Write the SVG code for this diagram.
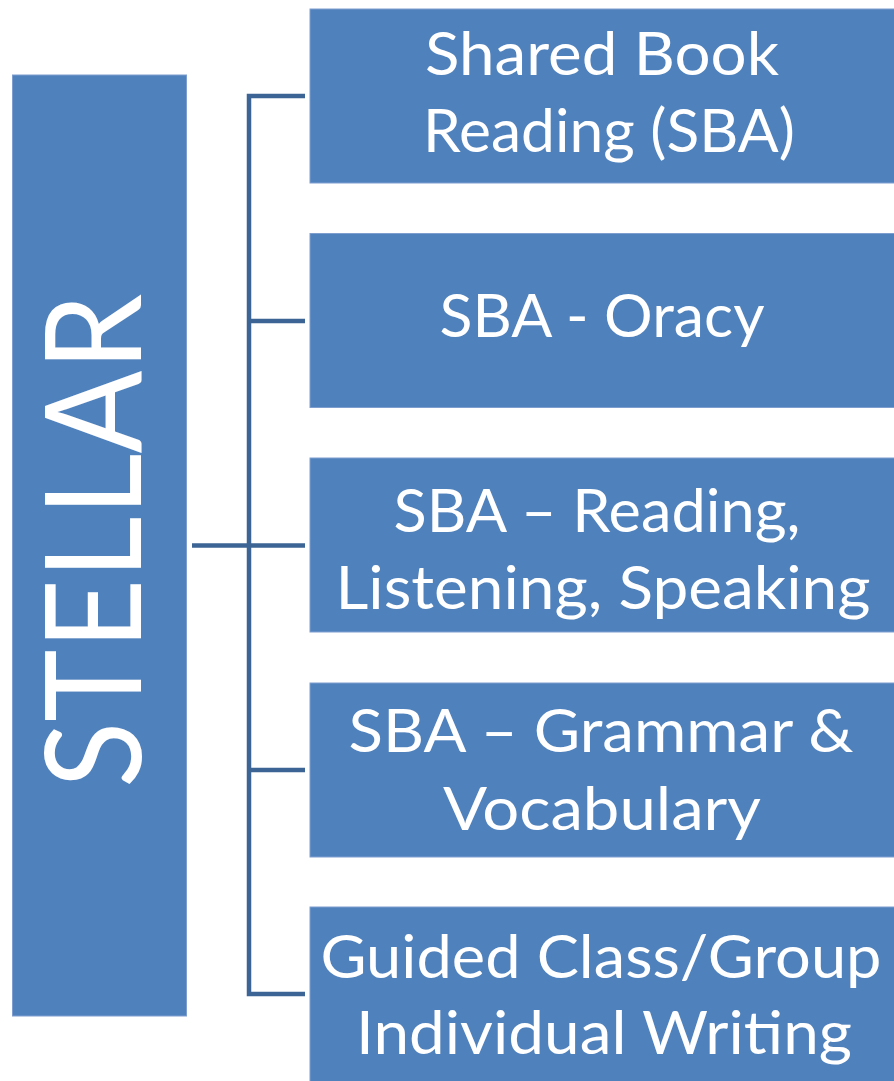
<svg xmlns="http://www.w3.org/2000/svg" width="894" height="1081" viewBox="0 0 894 1081">
<style>
.box{fill:#4F81BD;stroke:#7E9ED0;stroke-width:1}
.t{font-family:Lato,"Open Sans","Liberation Sans",sans-serif;fill:#FFFFFF;font-size:60px;text-anchor:middle}
.big{font-family:Lato,"Open Sans","Liberation Sans",sans-serif;fill:#FFFFFF;font-size:133px;text-anchor:middle}
.c{fill:none;stroke:#3C6494;stroke-width:4.5}
</style>
<rect width="894" height="1081" fill="#FFFFFF"/>
<g id="connectors">
<polyline class="c" points="305,96 249,96 249,994 305,994"/>
<line class="c" x1="249" y1="321" x2="305" y2="321"/>
<line class="c" x1="192" y1="545.5" x2="305" y2="545.5"/>
<line class="c" x1="249" y1="770" x2="305" y2="770"/>
</g>
<g id="stellar">
<rect class="box" x="12.5" y="75" width="174" height="941"/>
<text class="big" x="141" y="541" transform="rotate(-90 141 541)" textLength="494" lengthAdjust="spacingAndGlyphs">STELLAR</text>
</g>
<g id="node1">
<rect class="box" x="310" y="9" width="590" height="174"/>
<text class="t" x="602" y="75" textLength="354" lengthAdjust="spacingAndGlyphs">Shared Book</text>
<text class="t" x="609" y="151.5" textLength="372" lengthAdjust="spacingAndGlyphs">Reading (SBA)</text>
</g>
<g id="node2">
<rect class="box" x="310" y="233.5" width="590" height="174"/>
<text class="t" x="602" y="337" textLength="325" lengthAdjust="spacingAndGlyphs">SBA - Oracy</text>
</g>
<g id="node3">
<rect class="box" x="310" y="458" width="590" height="174"/>
<text class="t" x="597" y="532" textLength="407" lengthAdjust="spacingAndGlyphs">SBA – Reading,</text>
<text class="t" x="603" y="609" textLength="535" lengthAdjust="spacingAndGlyphs">Listening, Speaking</text>
</g>
<g id="node4">
<rect class="box" x="310" y="683" width="590" height="174"/>
<text class="t" x="601" y="752" textLength="505" lengthAdjust="spacingAndGlyphs">SBA – Grammar &amp;</text>
<text class="t" x="602" y="830" textLength="318" lengthAdjust="spacingAndGlyphs">Vocabulary</text>
</g>
<g id="node5">
<rect class="box" x="310" y="907" width="590" height="180"/>
<text class="t" x="601" y="978" textLength="561" lengthAdjust="spacingAndGlyphs">Guided Class/Group</text>
<text class="t" x="604" y="1054" textLength="496" lengthAdjust="spacingAndGlyphs">Individual Writing</text>
</g>
</svg>
